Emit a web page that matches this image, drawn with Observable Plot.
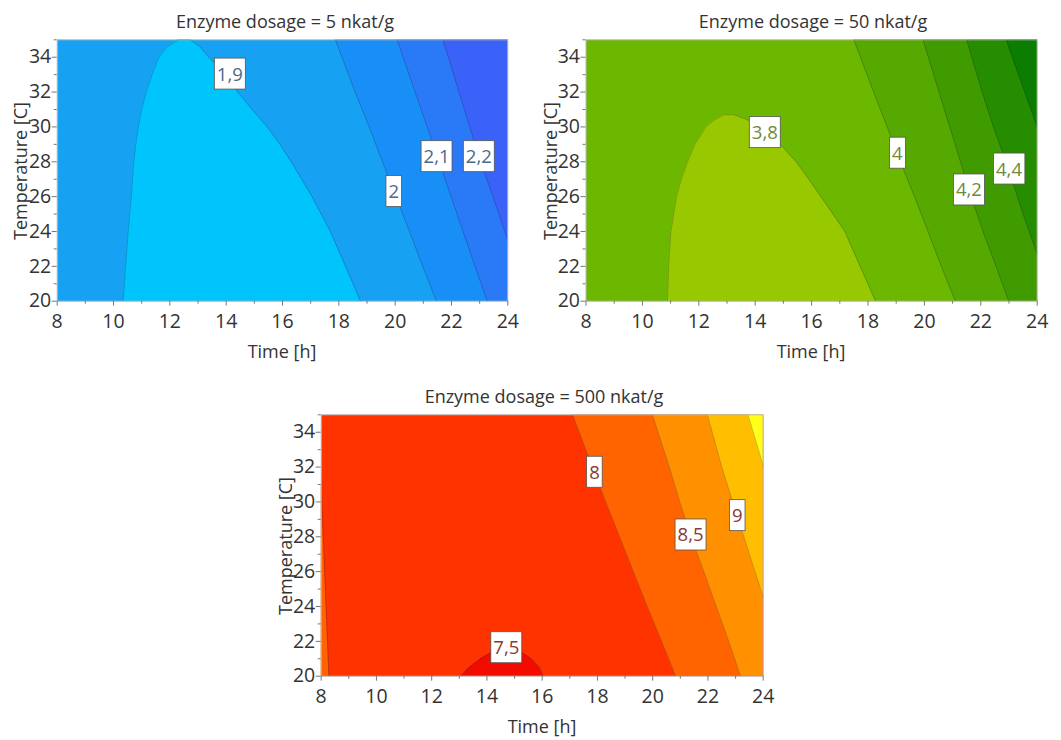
<!DOCTYPE html>
<html><head><meta charset="utf-8">
<script src="https://cdn.jsdelivr.net/npm/d3@7"></script>
<script src="https://cdn.jsdelivr.net/npm/@observablehq/plot@0.6"></script>
<style>
body{margin:0;background:#fff;}
#root{position:relative;width:1061px;height:740px;font-family:"Open Sans",sans-serif;overflow:hidden;}
#root svg{position:absolute;}
</style></head><body><div id="root"></div>
<script>
// ---------- data ----------
const timeDomain = [8, 24];
const tempDomain = [20, 35];
const timeTicks = [8, 10, 12, 14, 16, 18, 20, 22, 24];
const timeMinor = [9, 11, 13, 15, 17, 19, 21, 23];
const tempTicks = [20, 22, 24, 26, 28, 30, 32, 34];
const tempMinor = [21, 23, 25, 27, 29, 31, 33, 35];
const titles = ["Enzyme dosage = 5 nkat/g", "Enzyme dosage = 50 nkat/g", "Enzyme dosage = 500 nkat/g"];
const xLabel = "Time [h]";
const yLabel = "Temperature [C]";

// Panel A : 5 nkat/g  — contour lines as [temperature, time]
const aBubbleTemp  = [20, 22, 24, 26, 28, 29, 30, 31, 32, 33, 34, 34.6, 35];
const aBubbleLeft  = [10.34, 10.43, 10.52, 10.63, 10.72, 10.79, 10.88, 11.0, 11.16, 11.37, 11.61, 11.91, 12.3];
const aBubbleRight = [18.77, 18.24, 17.70, 17.05, 16.31, 15.91, 15.46, 14.92, 14.41, 14.01, 13.38, 13.07, 12.73];
const aLine20 = [[35, 17.88], [32, 18.58], [30, 19.08], [28, 19.55], [26, 20.03], [24, 20.51], [22, 20.98], [20, 21.47]];
const aLine21 = [[35, 20.07], [32, 20.71], [30, 21.14], [28, 21.56], [26, 21.99], [24, 22.41], [22, 22.84], [20, 23.27]];
const aLine22 = [[35, 21.70], [32, 22.27], [30, 22.65], [28, 23.03], [26, 23.48], [23.48, 24]];
const aLabelText = ["1,9", "2", "2,1", "2,2"];
const aLabelTime = [14.13, 19.95, 21.47, 22.97];
const aLabelTemp = [33.0, 26.26, 28.26, 28.26];

// Panel B : 50 nkat/g
const bBubbleTemp  = [20, 22, 24, 26, 27, 28, 29, 30, 30.4, 30.7];
const bBubbleLeft  = [10.89, 10.93, 11.01, 11.21, 11.38, 11.60, 11.86, 12.25, 12.55, 12.90];
const bBubbleRight = [18.27, 17.72, 17.18, 16.33, 15.90, 15.45, 14.88, 14.08, 13.73, 13.25];
const bLine40 = [[35, 17.5], [32, 18.2], [30, 18.68], [28, 19.15], [26, 19.65], [24, 20.13], [22, 20.6], [20, 21.1]];
const bLine42 = [[35, 19.95], [32, 20.52], [30, 20.9], [28, 21.28], [26.35, 21.58], [24, 22.08], [22, 22.54], [20, 22.99]];
const bLine44 = [[35, 21.5], [32, 22.05], [30, 22.45], [27.5, 23.0], [25, 23.5], [22.7, 24]];
const bLine46 = [[35, 22.9], [32.5, 23.45], [30, 24]];
const bLabelText = ["3,8", "4", "4,2", "4,4"];
const bLabelTime = [14.34, 19.04, 21.58, 23.0];
const bLabelTemp = [29.64, 28.46, 26.35, 27.55];

// Panel C : 500 nkat/g
const cBubbleTemp  = [20, 20.5, 21, 21.4, 21.65];
const cBubbleLeft  = [13.06, 13.36, 13.78, 14.2, 14.6];
const cBubbleRight = [16.05, 15.9, 15.61, 15.23, 14.9];
const cLeftLine80 = [[31, 8.0], [20, 8.28]];
const cLine80 = [[35, 17.1], [32, 17.82], [30, 18.3], [28, 18.8], [26, 19.3], [24, 19.8], [22, 20.32], [20, 20.83]];
const cLine85 = [[35, 19.99], [32, 20.6], [30, 20.98], [28.07, 21.37], [26, 21.85], [24, 22.3], [22, 22.75], [20, 23.18]];
const cLine90 = [[35, 21.98], [32, 22.5], [29.18, 23.06], [27, 23.5], [24.53, 24]];
const cLine95 = [[35, 23.45], [32.09, 24]];
const cLabelText = ["8", "8,5", "9", "7,5"];
const cLabelTime = [17.89, 21.37, 23.06, 14.7];
const cLabelTemp = [31.67, 28.07, 29.18, 21.6];

// ---------- styling / layout ----------
const pal = {
  a: {base: "#16a1f2", bubble: "#00c4fc", bands: ["#188ff6", "#2a79f7", "#3a62f8"], label: "#4c6a8c"},
  b: {base: "#6cb700", bubble: "#98c900", bands: ["#56a900", "#3f9b00", "#268c00", "#0b7d00"], label: "#718a3a"},
  c: {base: "#ff3300", bubble: "#f20c00", bands: ["#ff6400", "#ff9000", "#ffbe00", "#ffff1a"], strip: "#ff6400", label: "#8a3a30"}
};
const lineStroke = "rgba(30,30,60,0.28)";

const toPts = arr => arr.map(([t, h]) => ({t, h}));
const bubble = (T, L, R) => T.map((t, i) => ({t, l: L[i], r: R[i]}));
const labels = (S, H, T) => S.map((s, i) => ({s, h: H[i], t: T[i]}));

function makePanel(opt) {
  const marks = [Plot.frame({fill: opt.base})];
  opt.bands.forEach((ln, i) => {
    marks.push(Plot.areaX(toPts(ln), {y: "t", x1: "h", x2: () => timeDomain[1], fill: opt.bandColors[i]}));
  });
  if (opt.strip) marks.push(Plot.areaX(toPts(opt.strip), {y: "t", x1: () => timeDomain[0], x2: "h", fill: opt.stripColor}));
  const bub = opt.bubble;
  marks.push(Plot.areaX(bub, {y: "t", x1: "l", x2: "r", fill: opt.bubbleColor}));
  // contour lines
  opt.bands.forEach(ln => marks.push(Plot.line(toPts(ln), {x: "h", y: "t", stroke: lineStroke, strokeWidth: 0.9})));
  if (opt.strip) marks.push(Plot.line(toPts(opt.strip), {x: "h", y: "t", stroke: lineStroke, strokeWidth: 0.9}));
  const outline = bub.map(d => ({h: d.l, t: d.t})).concat(bub.slice().reverse().map(d => ({h: d.r, t: d.t})));
  marks.push(Plot.line(outline, {x: "h", y: "t", stroke: lineStroke, strokeWidth: 0.9}));
  marks.push(Plot.frame({stroke: "#b8b8b8", strokeWidth: 1}));
  // axes
  marks.push(Plot.axisX(timeTicks, {tickSize: 5, tickPadding: 8, fontSize: 19.5, stroke: "#777", fill: "#333", label: null}));
  marks.push(Plot.axisX(timeMinor, {tickSize: 3, stroke: "#777", tickFormat: () => "", label: null}));
  marks.push(Plot.axisY(tempTicks, {tickSize: 5, tickPadding: 1, fontSize: 19.5, stroke: "#777", fill: "#333", label: null}));
  marks.push(Plot.axisY(tempMinor, {tickSize: 3, stroke: "#777", tickFormat: () => "", label: null}));
  marks.push(Plot.text(opt.labels, {x: "h", y: "t", text: "s", fill: opt.labelColor, fontSize: 18.5}));
  const svg = Plot.plot({
    width: opt.w, height: opt.hgt,
    marginLeft: opt.ml, marginRight: opt.mr, marginTop: opt.mt, marginBottom: opt.mb,
    x: {domain: timeDomain}, y: {domain: tempDomain},
    style: {fontFamily: '"Open Sans", sans-serif', fontSize: "18px", background: "transparent", overflow: "visible", color: "#333"},
    marks
  });
  svg.style.left = opt.left + "px";
  svg.style.top = opt.top + "px";
  return svg;
}

const root = document.getElementById("root");
const panels = [
  makePanel({left: 0, top: 0, w: 530, hgt: 370, ml: 56.7, mr: 22.7, mt: 39.3, mb: 69.3,
    base: pal.a.base, bubbleColor: pal.a.bubble, bandColors: pal.a.bands, labelColor: pal.a.label,
    bands: [aLine20, aLine21, aLine22], bubble: bubble(aBubbleTemp, aBubbleLeft, aBubbleRight),
    labels: labels(aLabelText, aLabelTime, aLabelTemp)}),
  makePanel({left: 530, top: 0, w: 531, hgt: 370, ml: 55.5, mr: 24.3, mt: 39.3, mb: 69.3,
    base: pal.b.base, bubbleColor: pal.b.bubble, bandColors: pal.b.bands, labelColor: pal.b.label,
    bands: [bLine40, bLine42, bLine44, bLine46], bubble: bubble(bBubbleTemp, bBubbleLeft, bBubbleRight),
    labels: labels(bLabelText, bLabelTime, bLabelTemp)}),
  makePanel({left: 260, top: 375, w: 540, hgt: 365, ml: 60.7, mr: 37.3, mt: 39.3, mb: 64.3,
    base: pal.c.base, bubbleColor: pal.c.bubble, bandColors: pal.c.bands, labelColor: pal.c.label,
    strip: cLeftLine80, stripColor: pal.c.strip,
    bands: [cLine80, cLine85, cLine90, cLine95], bubble: bubble(cBubbleTemp, cBubbleLeft, cBubbleRight),
    labels: labels(cLabelText, cLabelTime, cLabelTemp)})
];
panels.forEach(p => root.appendChild(p));

// white boxes behind contour labels
panels.forEach(p => {
  d3.select(p).selectAll("g[aria-label='text'] text").each(function () {
    const bb = this.getBBox();
    const r = document.createElementNS("http://www.w3.org/2000/svg", "rect");
    r.setAttribute("x", bb.x - 2.5);
    r.setAttribute("width", bb.width + 5);
    r.setAttribute("y", bb.y + bb.height / 2 - 15);
    r.setAttribute("height", 31);
    r.setAttribute("fill", "#fff");
    r.setAttribute("stroke", "#555");
    r.setAttribute("stroke-width", 0.8);
    if (this.getAttribute("transform")) r.setAttribute("transform", this.getAttribute("transform"));
    this.parentNode.insertBefore(r, this);
  });
});

// titles and axis labels
const ov = d3.select(root).append("svg").attr("width", 1061).attr("height", 740)
  .style("left", "0px").style("top", "0px")
  .attr("font-family", '"Open Sans", sans-serif').attr("font-size", 18).attr("fill", "#333");
const textSpecs = [
  {s: titles[0], x: 285, y: 28.3}, {s: titles[1], x: 813, y: 28.3}, {s: titles[2], x: 544, y: 403.3},
  {s: xLabel, x: 282, y: 358.3}, {s: xLabel, x: 811, y: 358.3}, {s: xLabel, x: 542, y: 733}
];
textSpecs.forEach(d => ov.append("text").attr("x", d.x).attr("y", d.y).attr("text-anchor", "middle").text(d.s));
[[26.7, 171], [556.7, 171], [291.7, 546]].forEach(([x, y]) =>
  ov.append("text").attr("transform", `translate(${x},${y}) rotate(-90)`).attr("text-anchor", "middle").text(yLabel));
</script>
</body></html>
